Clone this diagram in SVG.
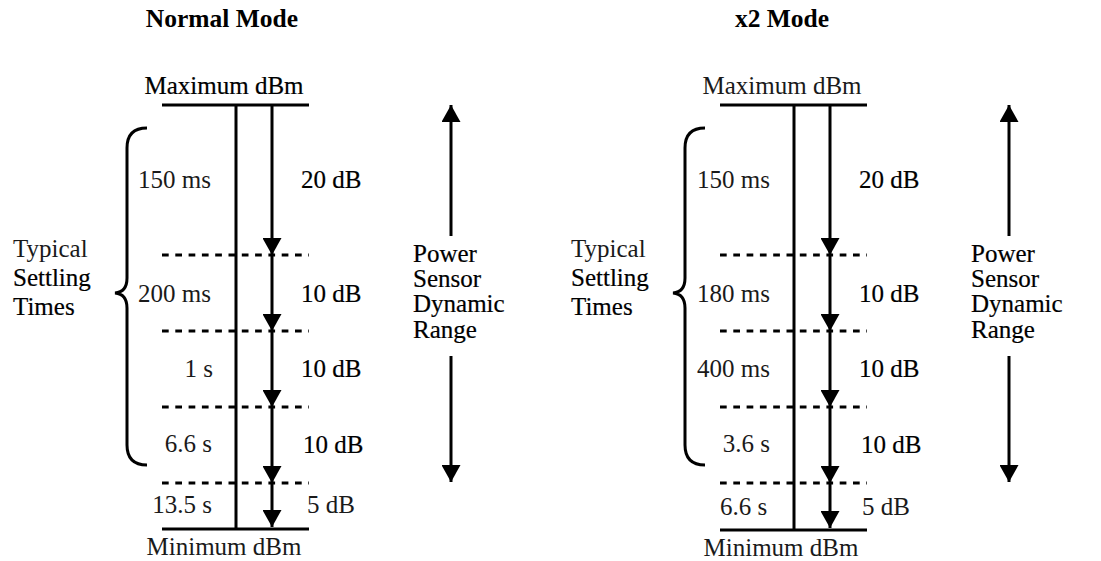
<svg xmlns="http://www.w3.org/2000/svg" width="1101" height="561" viewBox="0 0 1101 561">
<style>
text{font-family:"Liberation Serif","Times New Roman",serif;font-size:25px;fill:#1a1a1a}
.t{font-weight:bold;text-anchor:middle;fill:#000;font-size:25.5px}
.c{text-anchor:middle}
.e{text-anchor:end}
.dk{fill:#000;stroke:#000;stroke-width:0.2}
.ln{stroke:#000;stroke-width:3;fill:none}
.ds{stroke:#000;stroke-width:3;fill:none;stroke-dasharray:6.7 6.6}
.ar{stroke:#000;stroke-width:3;fill:none;marker-end:url(#ah)}
.am{stroke:#000;stroke-width:3;fill:none;marker-mid:url(#ah);marker-end:url(#ah)}
</style>
<defs>
<marker id="ah" viewBox="0 0 17 19" refX="17" refY="9.5" markerWidth="17" markerHeight="19" markerUnits="userSpaceOnUse" orient="auto">
<path d="M0,0 L17,9.5 L0,19 z" fill="#000"/>
</marker>
</defs>
<rect width="1101" height="561" fill="#fff"/>

<g id="normal-mode">
<text id="normal-title" class="t" x="222" y="27">Normal Mode</text>
<g id="n-scale">
<line class="ln" x1="162" y1="105" x2="309" y2="105"/>
<line class="ln" x1="162" y1="529" x2="309" y2="529"/>
<line class="ln" x1="236" y1="105" x2="236" y2="529"/>
<line class="ds" x1="162" y1="255" x2="309" y2="255"/>
<line class="ds" x1="162" y1="331" x2="309" y2="331"/>
<line class="ds" x1="162" y1="407" x2="309" y2="407"/>
<line class="ds" x1="162" y1="483" x2="309" y2="483"/>
</g>
<text id="n-max" class="c dk" x="224" y="94">Maximum dBm</text>
<text id="n-min" class="c" x="224" y="555">Minimum dBm</text>
<g id="n-brace">
<path class="ln" d="M147,128 Q127,128 127,148 L127,278 Q127,292 115,293 Q127,294 127,308 L127,445 Q127,465 147,465"/>
<text x="13" y="257">Typical</text>
<text class="dk" x="13" y="286">Settling</text>
<text class="dk" x="13" y="315">Times</text>
</g>
<g id="n-times">
<text x="138" y="188">150 ms</text>
<text x="138" y="302">200 ms</text>
<text class="e" x="213" y="377">1 s</text>
<text class="e" x="212" y="452">6.6 s</text>
<text class="e" x="212" y="513">13.5 s</text>
</g>
<g id="n-steps">
<text class="dk" x="301" y="188">20 dB</text>
<text class="dk" x="301" y="302">10 dB</text>
<text class="dk" x="301" y="377">10 dB</text>
<text class="dk" x="303" y="453">10 dB</text>
<text x="307" y="513">5 dB</text>
</g>
<g id="n-range">
<text class="dk" x="413" y="262">Power</text>
<text class="dk" x="413" y="287">Sensor</text>
<text class="dk" x="413" y="312">Dynamic</text>
<text class="dk" x="413" y="338">Range</text>
</g>
</g>

<g id="x2-mode">
<text id="x2-title" class="t" x="782" y="27">x2 Mode</text>
<g id="x-scale">
<line class="ln" x1="720" y1="105" x2="867" y2="105"/>
<line class="ln" x1="720" y1="530" x2="867" y2="530"/>
<line class="ln" x1="794" y1="105" x2="794" y2="530"/>
<line class="ds" x1="720" y1="255" x2="867" y2="255"/>
<line class="ds" x1="720" y1="331" x2="867" y2="331"/>
<line class="ds" x1="720" y1="407" x2="867" y2="407"/>
<line class="ds" x1="720" y1="483" x2="867" y2="483"/>
</g>
<text id="x-max" class="c" x="782" y="94">Maximum dBm</text>
<text id="x-min" class="c" x="781" y="556">Minimum dBm</text>
<g id="x-brace">
<path class="ln" d="M705,128 Q685,128 685,148 L685,278 Q685,292 673,293 Q685,294 685,308 L685,445 Q685,465 705,465"/>
<text x="571" y="257">Typical</text>
<text class="dk" x="571" y="286">Settling</text>
<text class="dk" x="571" y="315">Times</text>
</g>
<g id="x-times">
<text x="697" y="188">150 ms</text>
<text x="697" y="302">180 ms</text>
<text x="697" y="377">400 ms</text>
<text class="e" x="770" y="452">3.6 s</text>
<text x="720" y="515">6.6 s</text>
</g>
<g id="x-steps">
<text class="dk" x="859" y="188">20 dB</text>
<text class="dk" x="859" y="302">10 dB</text>
<text class="dk" x="859" y="377">10 dB</text>
<text class="dk" x="861" y="453">10 dB</text>
<text x="862" y="515">5 dB</text>
</g>
<g id="x-range">
<text class="dk" x="971" y="262">Power</text>
<text class="dk" x="971" y="287">Sensor</text>
<text class="dk" x="971" y="312">Dynamic</text>
<text class="dk" x="971" y="338">Range</text>
</g>
</g>

<g id="connectors">
<path class="am" d="M272,105 V255 V331 V407 V483 V527"/>
<line class="ar" x1="451" y1="236" x2="451" y2="105"/>
<line class="ar" x1="451" y1="356" x2="451" y2="482"/>
<path class="am" d="M830,105 V255 V331 V407 V483 V528"/>
<line class="ar" x1="1009" y1="236" x2="1009" y2="105"/>
<line class="ar" x1="1009" y1="356" x2="1009" y2="482"/>
</g>
</svg>
